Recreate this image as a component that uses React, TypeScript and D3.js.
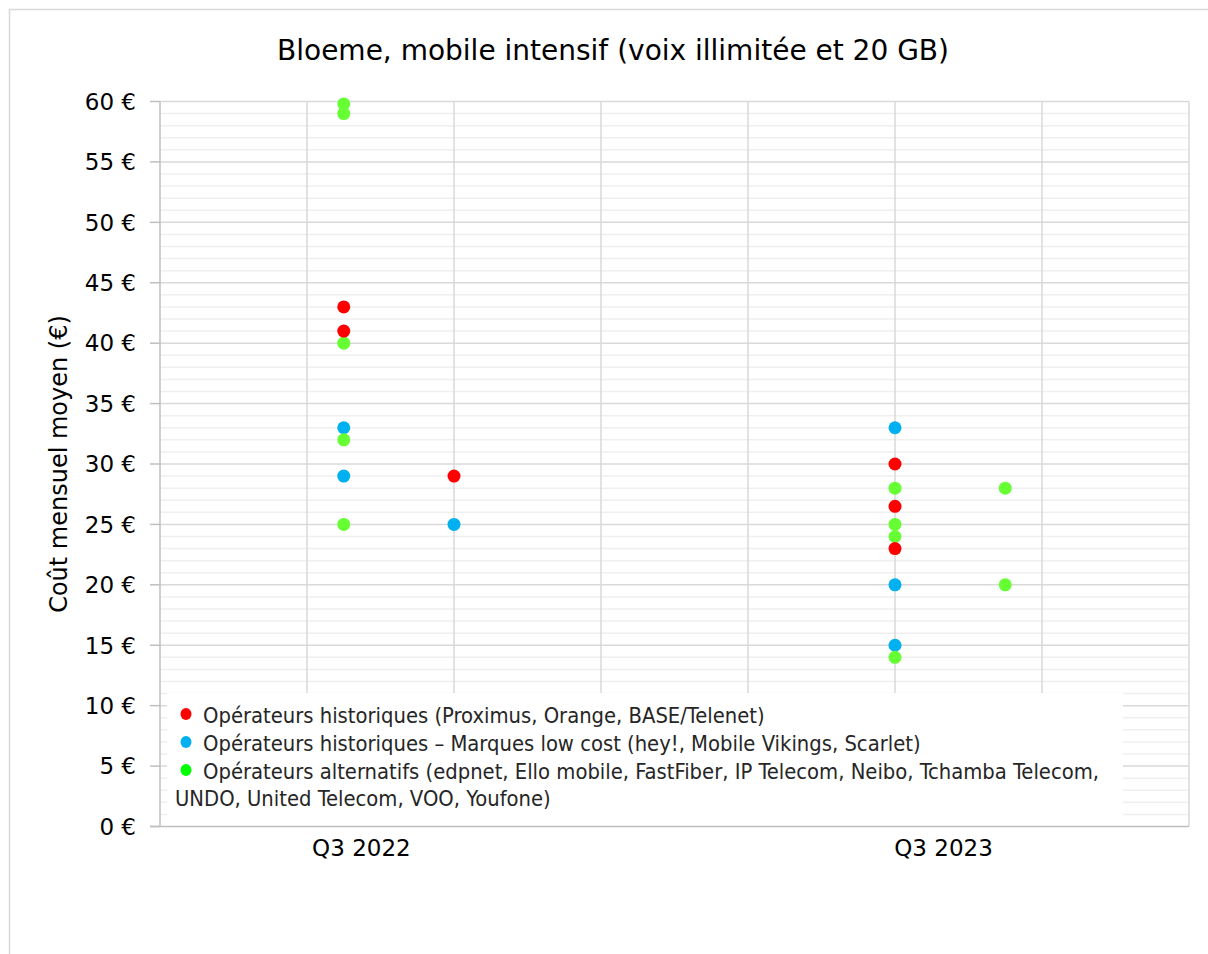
import React from "react";
import * as d3 from "d3";

const title = "Bloeme, mobile intensif (voix illimitée et 20 GB)";
const yAxisTitle = "Coût mensuel moyen (€)";
const categories = ["Q3 2022", "Q3 2023"];
const categoryPos = [1.37, 5.33];
const yTicks = [0, 5, 10, 15, 20, 25, 30, 35, 40, 45, 50, 55, 60];

const historiques = [
  { x: 1.25, v: 43 }, { x: 1.25, v: 41 }, { x: 2, v: 29 },
  { x: 5, v: 30 }, { x: 5, v: 26.5 }, { x: 5, v: 23 },
];
const lowCost = [
  { x: 1.25, v: 33 }, { x: 1.25, v: 29 }, { x: 2, v: 25 },
  { x: 5, v: 33 }, { x: 5, v: 20 }, { x: 5, v: 15 },
];
const alternatifs = [
  { x: 1.25, v: 59.8 }, { x: 1.25, v: 59 }, { x: 1.25, v: 40 }, { x: 1.25, v: 32 }, { x: 1.25, v: 25 },
  { x: 5, v: 28 }, { x: 5, v: 25 }, { x: 5, v: 24 }, { x: 5, v: 14 },
  { x: 5.75, v: 28 }, { x: 5.75, v: 20 },
];

const legendItems = [
  { color: "#FF0000", lines: ["Opérateurs historiques (Proximus, Orange, BASE/Telenet)"] },
  { color: "#00B0F0", lines: ["Opérateurs historiques – Marques low cost (hey!, Mobile Vikings, Scarlet)"] },
  { color: "#00FF00", lines: ["Opérateurs alternatifs (edpnet, Ello mobile, FastFiber, IP Telecom, Neibo, Tchamba Telecom,", "UNDO, United Telecom, VOO, Youfone)"] },
];

const series = [
  { data: lowCost, color: "#00B0F0" },
  { data: alternatifs, color: "#66FF33" },
  { data: historiques, color: "#FF0000" },
];

const FONT = "'DejaVu Sans', Tahoma, Verdana, sans-serif";
const LEGEND_FONT = "'DejaVu Sans Condensed', 'DejaVu Sans', Tahoma, sans-serif";

export default function App() {
  const left = 160, right = 1189, top = 101.5, bottom = 826.5;
  const x = d3.scaleLinear().domain([0, 7]).range([left, right]);
  const y = d3.scaleLinear().domain([0, 60]).range([bottom, top]);
  const minor = d3.range(0, 61, 1).filter((v) => v % 5 !== 0);
  const vgrid = d3.range(1, 8);

  const legend = { x0: 167, y0: 693, x1: 1123 };

  return (
    <svg width={1208} height={954} style={{ position: "absolute", left: 0, top: 0, background: "#fff" }} fontFamily={FONT}>
      <rect x={9.5} y={9.5} width={1220} height={960} fill="#fff" stroke="#d9d9d9" strokeWidth={1.5} />
      <text x={613} y={60} textAnchor="middle" fontSize={28} fill="#000">{title}</text>

      {/* minor grid */}
      {minor.map((v) => (
        <line key={"m" + v} x1={left} x2={right} y1={y(v)} y2={y(v)} stroke="#efefef" strokeWidth={1.5} />
      ))}
      {/* major grid */}
      {yTicks.slice(1).map((v) => (
        <line key={"M" + v} x1={left} x2={right} y1={y(v)} y2={y(v)} stroke="#d9d9d9" strokeWidth={1.5} />
      ))}
      {vgrid.map((k) => (
        <line key={"v" + k} x1={x(k)} x2={x(k)} y1={top} y2={bottom} stroke="#d9d9d9" strokeWidth={1.5} />
      ))}

      {/* legend box */}
      <rect x={legend.x0} y={legend.y0} width={legend.x1 - legend.x0} height={bottom - legend.y0} fill="#fff" />

      {/* axes */}
      <line x1={left} x2={left} y1={top} y2={bottom} stroke="#bfbfbf" strokeWidth={1.5} />
      <line x1={150} x2={right} y1={bottom} y2={bottom} stroke="#bfbfbf" strokeWidth={1.5} />
      {yTicks.map((v) => (
        <g key={"t" + v}>
          <line x1={150} x2={left} y1={y(v)} y2={y(v)} stroke="#bfbfbf" strokeWidth={1.5} />
          <text x={136} y={y(v)} dy="0.36em" textAnchor="end" fontSize={23} fill="#000">{v} €</text>
        </g>
      ))}
      <text transform={`translate(67,${(top + bottom) / 2}) rotate(-90)`} textAnchor="middle" fontSize={24} fill="#000">{yAxisTitle}</text>
      {categories.map((c, i) => (
        <text key={c} x={x(categoryPos[i])} y={856} textAnchor="middle" fontSize={23} fill="#000">{c}</text>
      ))}

      {/* points */}
      {series.map((s, si) => (
        <g key={si}>
          {s.data.map((d, i) => (
            <circle key={i} cx={x(d.x)} cy={y(d.v)} r={6.5} fill={s.color} />
          ))}
        </g>
      ))}

      {/* legend */}
      {(() => {
        let row = 0;
        return legendItems.map((item, i) => {
          const ly = 715 + row * 28;
          const els = (
            <g key={i} fontFamily={LEGEND_FONT}>
              <ellipse cx={186} cy={ly - 1} rx={5.5} ry={6} fill={item.color} />
              {item.lines.map((ln, j) => (
                <text key={j} x={j === 0 ? 203 : 175} y={ly + j * 27} dy="0.36em" fontSize={21.8} fill="#262626">{ln}</text>
              ))}
            </g>
          );
          row += item.lines.length;
          return els;
        });
      })()}
    </svg>
  );
}
